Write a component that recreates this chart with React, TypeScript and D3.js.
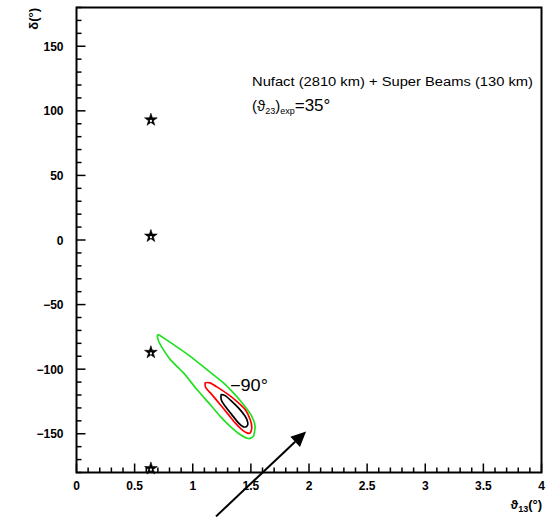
import React from "react";
import * as d3 from "d3";

const W = 554;
const H = 517;

const xTicks = [0, 0.5, 1, 1.5, 2, 2.5, 3, 3.5, 4];
const xTickLabels = ["0", "0.5", "1", "1.5", "2", "2.5", "3", "3.5", "4"];
const yTicks = [-150, -100, -50, 0, 50, 100, 150];
const yTickLabels = ["\u2212150", "\u2212100", "\u221250", "0", "50", "100", "150"];

// true-value markers (stars)
const starX = [0.64, 0.64, 0.64, 0.64];
const starY = [93, 3, -87, -177];

// contours: [theta13, delta]
const greenContour: [number, number][] = [
  [0.706, -73.3], [0.835, -81.0], [0.979, -90.1], [1.122, -100.4], [1.264, -110.6],
  [1.35, -118.4], [1.436, -127.4], [1.508, -136.5], [1.536, -144.2], [1.522, -151.9],
  [1.479, -153.7], [1.408, -150.6], [1.322, -144.2], [1.236, -136.5], [1.15, -127.4],
  [1.036, -115.8], [0.921, -102.9], [0.807, -92.6], [0.721, -81.0], [0.698, -75.8],
];
const redContour: [number, number][] = [
  [1.107, -110.6], [1.15, -110.6], [1.221, -114.5], [1.307, -119.7], [1.379, -124.9],
  [1.451, -131.3], [1.494, -139.0], [1.508, -145.4], [1.494, -149.3], [1.465, -149.3],
  [1.422, -146.8], [1.365, -141.6], [1.307, -135.2], [1.236, -127.4], [1.165, -119.7],
  [1.113, -114.5],
];
const blackContour: [number, number][] = [
  [1.245, -119.7], [1.279, -120.5], [1.336, -124.9], [1.393, -130.0], [1.451, -136.5],
  [1.474, -141.6], [1.465, -144.2], [1.436, -144.7], [1.393, -141.6], [1.336, -135.2],
  [1.279, -128.7], [1.245, -123.6],
];

// annotation arrow (data coords): tail -> tip
const arrowTail: [number, number] = [1.2, -214];
const arrowTip: [number, number] = [1.975, -148.3];
const labelPoint: [number, number] = [1.32, -117];

const FONT = "'Liberation Sans', Arial, sans-serif";

export default function App() {
  const x = d3.scaleLinear().domain([0, 4]).range([76.5, 541.5]);
  const y = d3.scaleLinear().domain([-180, 180]).range([472.5, 7.5]);

  const xMinor = d3.range(0, 4.0001, 0.1).map((v) => +v.toFixed(2));
  const yMinor = d3.range(-180, 180.001, 10);

  const line = d3
    .line<[number, number]>()
    .x((d) => x(d[0]))
    .y((d) => y(d[1]))
    .curve(d3.curveCardinalClosed.tension(0.4));

  const star = d3.symbol().type(d3.symbolStar).size(50)() as string;

  // arrow geometry
  const tx = x(arrowTail[0]), ty = y(arrowTail[1]);
  const hx = x(arrowTip[0]), hy = y(arrowTip[1]);
  const ang = Math.atan2(hy - ty, hx - tx);
  const hl = 15, hw = 7;
  const bx = hx - hl * Math.cos(ang), by = hy - hl * Math.sin(ang);
  const p1 = [bx + hw * Math.sin(ang), by - hw * Math.cos(ang)];
  const p2 = [bx - hw * Math.sin(ang), by + hw * Math.cos(ang)];

  return (
    <svg width={W} height={H} style={{ position: "absolute", left: 0, top: 0, background: "#fff" }}>
      <rect width={W} height={H} fill="#fff" />
      {/* contours */}
      <path d={line(greenContour) || ""} fill="none" stroke="#22e022" strokeWidth={1.7} />
      <path d={line(redContour) || ""} fill="none" stroke="#ff0000" strokeWidth={1.7} />
      <path d={line(blackContour) || ""} fill="none" stroke="#000" strokeWidth={1.7} />

      {/* stars */}
      {starX.map((sx, i) => (
        <g key={i} transform={`translate(${x(sx)},${y(starY[i])})`}>
          <path d={star} fill="#000" stroke="#000" strokeWidth={0.6} />
          <rect x={-1} y={0} width={2} height={2} fill="#fff" />
        </g>
      ))}

      {/* frame */}
      <rect x={x(0)} y={y(180)} width={x(4) - x(0)} height={y(-180) - y(180)} fill="none" stroke="#000" strokeWidth={2} />

      {/* x ticks */}
      {xMinor.map((v, i) => {
        const major = Math.abs(v * 2 - Math.round(v * 2)) < 1e-6;
        return <line key={i} x1={x(v)} x2={x(v)} y1={y(-180)} y2={y(-180) - (major ? 9 : 5)} stroke="#000" strokeWidth={1.5} />;
      })}
      {/* y ticks */}
      {yMinor.map((v, i) => {
        const major = v % 50 === 0;
        return <line key={i} y1={y(v)} y2={y(v)} x1={x(0)} x2={x(0) + (major ? 9 : 5)} stroke="#000" strokeWidth={1.5} />;
      })}

      {/* tick labels */}
      {xTicks.map((v, i) => (
        <text key={i} x={x(v)} y={490} textAnchor="middle" fontFamily={FONT} fontSize={12} fontWeight="bold" fill="#000">
          {xTickLabels[i]}
        </text>
      ))}
      {yTicks.map((v, i) => (
        <text key={i} x={63.5} y={y(v) + 4.5} textAnchor="end" fontFamily={FONT} fontSize={12} fontWeight="bold" fill="#000">
          {yTickLabels[i]}
        </text>
      ))}

      {/* axis titles */}
      <text x={542} y={509} textAnchor="end" fontFamily={FONT} fontSize={13} fontWeight="bold" fill="#000">
        ϑ<tspan fontSize={9} dy={3}>13</tspan>
        <tspan dy={-3}>(°)</tspan>
      </text>
      <text transform="translate(38,8) rotate(-90)" textAnchor="end" fontFamily={FONT} fontSize={13} fontWeight="bold" fill="#000">
        δ(°)
      </text>

      {/* legend text */}
      <text x={252} y={86} fontFamily={FONT} fontSize={12} textLength={281} lengthAdjust="spacingAndGlyphs" fill="#000">
        Nufact (2810 km) + Super Beams (130 km)
      </text>
      <text x={252} y={111} fontFamily={FONT} fontSize={15} fill="#000">
        (ϑ<tspan fontSize={9} dy={3}>23</tspan>
        <tspan dy={-3}>)</tspan>
        <tspan fontSize={9} dy={3}>exp</tspan>
        <tspan dy={-3} fontSize={17}>=35°</tspan>
      </text>

      {/* -90° label */}
      <text x={x(labelPoint[0])} y={y(labelPoint[1])} fontFamily={FONT} fontSize={16} textLength={38} lengthAdjust="spacingAndGlyphs" fill="#000">
        −90°
      </text>

      {/* arrow */}
      <line x1={tx} y1={ty} x2={bx} y2={by} stroke="#000" strokeWidth={2} />
      <polygon points={`${hx},${hy} ${p1[0]},${p1[1]} ${p2[0]},${p2[1]}`} fill="#000" />
    </svg>
  );
}
